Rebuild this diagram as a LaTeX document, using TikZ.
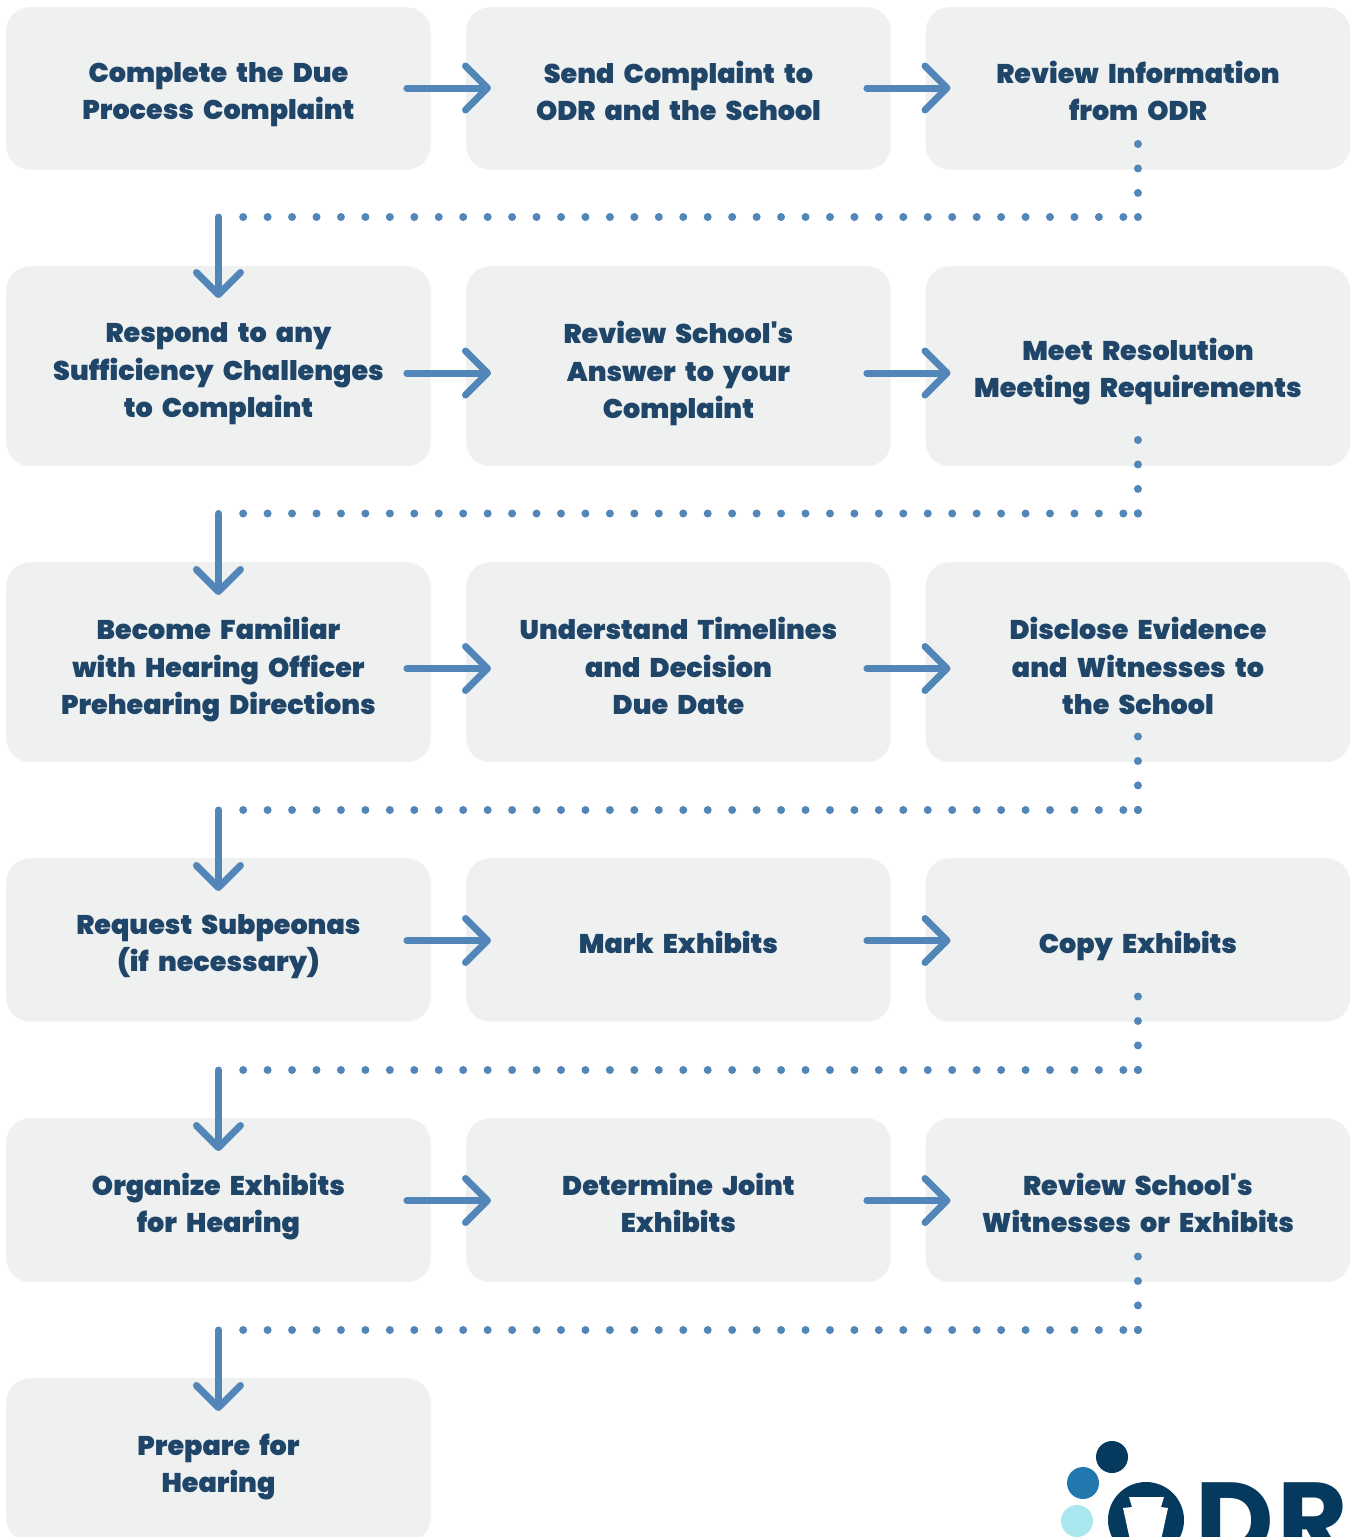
\documentclass[tikz,border=0pt]{standalone}
\usepackage{fontspec}
\newfontfamily\stepfont{Poppins}[UprightFont=* Black,WordSpace=2]
\newfontfamily\logofont{Poppins}[UprightFont=* Bold]
\usetikzlibrary{arrows.meta,calc}
\definecolor{boxfill}{HTML}{EFF0F0}
\definecolor{ink}{HTML}{1F4569}
\definecolor{flow}{HTML}{5286B9}
\definecolor{logodark}{HTML}{053A5E}
\definecolor{logomid}{HTML}{2277AE}
\definecolor{logolight}{HTML}{A8E8EE}
\newcommand\ls{\rule[-8pt]{0pt}{28pt}}
\tikzset{
  x=1pt,y=-1pt,
  stepbox/.style={fill=boxfill,rounded corners=24pt,inner sep=0pt,minimum width=#1,anchor=north west},
  steplabel/.style={font=\stepfont\fontsize{27}{37.5}\selectfont,text=ink,align=center,inner sep=0pt,anchor=center},
  flowarrow/.style={draw=flow,line width=7pt,line cap=round,-{Straight Barb[length=22pt,width=44pt,line width=7pt,round]}},
  flowdots/.style={draw=flow,line width=8pt,line cap=round,dash pattern=on 0pt off 24.45pt},
  logodot/.style={circle,inner sep=0pt,minimum size=32pt},
}
\newcommand\stepnode[6]{% name, x, top, bottom, label y, text
  \node[stepbox=424.5pt,minimum height=#4pt-#3pt] (#1) at (#2,#3) {};
  \node[steplabel] (#1t) at (#1.north |- 0,#5) {#6};
}
\newcommand\rowlinks[4]{% a b c arrow-y
  \coordinate (#1o) at ($(#1.east |- 0,#4)+(-24,0)$);
  \coordinate (#2i) at ($(#2.west |- 0,#4)+(25,0)$);
  \coordinate (#2o) at ($(#2.east |- 0,#4)+(-24,0)$);
  \coordinate (#3i) at ($(#3.west |- 0,#4)+(25,0)$);
  \draw[flowarrow] (#1o) -- (#2i);
  \draw[flowarrow] (#2o) -- (#3i);
}
\newcommand\turn[5]{% from-box to-box dot-top corner-y tip-y
  \coordinate (#1a) at (#1.north |- 0,#3);
  \coordinate (#1b) at (#1.north |- 0,#4);
  \coordinate (#2c) at (#2.north |- 0,#4);
  \coordinate (#2d) at (#2.north |- 0,#5);
  \draw[flowdots] (#1a) -- (#1b);
  \draw[flowdots] ($(#2c)+(24.7,0)$) -- (#1b);
  \fill[flow] (#1b) circle[radius=4pt];
  \draw[flowarrow] (#2c) -- (#2d);
}
\begin{document}
\begin{tikzpicture}
\useasboundingbox (0,0) rectangle (1352,1537);
\clip (0,0) rectangle (1352,1537);
\stepnode{a1}{6}{7}{169.5}{95}{\ls Complete the Due\\\ls Process Complaint}
\stepnode{a2}{466}{7}{169.5}{95}{\ls Send Complaint to\\\ls ODR and the School}
\stepnode{a3}{925.5}{7}{169.5}{95}{\ls Review Information\\\ls from ODR}
\stepnode{b1}{6}{266}{466}{374}{\ls Respond to any\\\ls Sufficiency Challenges\\\ls to Complaint}
\stepnode{b2}{466}{266}{466}{374}{\ls Review School's\\\ls Answer to your\\\ls Complaint}
\stepnode{b3}{925.5}{266}{466}{372}{\ls Meet Resolution\\\ls Meeting Requirements}
\stepnode{c1}{6}{562}{762}{670}{\ls Become Familiar\\\ls with Hearing Officer\\\ls Prehearing Directions}
\stepnode{c2}{466}{562}{762}{670}{\ls Understand Timelines\\\ls and Decision\\\ls Due Date}
\stepnode{c3}{925.5}{562}{762}{670}{\ls Disclose Evidence\\\ls and Witnesses to\\\ls the School}
\stepnode{d1}{6}{858}{1021.5}{947}{\ls Request Subpeonas\\\ls (if necessary)}
\stepnode{d2}{466}{858}{1021.5}{946.5}{\ls Mark Exhibits}
\stepnode{d3}{925.5}{858}{1021.5}{946.5}{\ls Copy Exhibits}
\stepnode{e1}{6}{1118}{1282}{1207}{\ls Organize Exhibits\\\ls for Hearing}
\stepnode{e2}{466}{1118}{1282}{1207}{\ls Determine Joint\\\ls Exhibits}
\stepnode{e3}{925.5}{1118}{1282}{1207}{\ls Review School's\\\ls Witnesses or Exhibits}
\stepnode{f1}{6}{1378}{1542}{1467}{\ls Prepare for\\\ls Hearing}
\rowlinks{a1}{a2}{a3}{88}
\rowlinks{b1}{b2}{b3}{373}
\rowlinks{c1}{c2}{c3}{668.5}
\rowlinks{d1}{d2}{d3}{940.5}
\rowlinks{e1}{e2}{e3}{1200.5}
\turn{a3}{b1}{144}{217}{298}
\turn{b3}{c1}{440}{513.5}{595}
\turn{c3}{d1}{736.5}{810}{891}
\turn{d3}{e1}{996.5}{1070}{1151}
\turn{e3}{f1}{1256.5}{1330}{1411}
% logo
\node[logodot,fill=logodark] (l1) at (1112,1457) {};
\node[logodot,fill=logomid] (l2) at (1083,1483) {};
\node[logodot,fill=logolight] (l3) at (1077,1521) {};
\fill[logodark] (1146,1520) circle[radius=38pt];
\fill[white] (1129,1497) -- (1164,1497) -- (1161,1507) -- (1168,1508) -- (1161,1540) -- (1130,1540) -- (1123,1508) -- (1132,1507) -- cycle;
\node[font=\logofont\fontsize{108}{108}\selectfont,text=logodark,inner sep=0pt,anchor=base west] (logo) at (1195,1558) {D\kern4pt R};
\end{tikzpicture}
\end{document}
